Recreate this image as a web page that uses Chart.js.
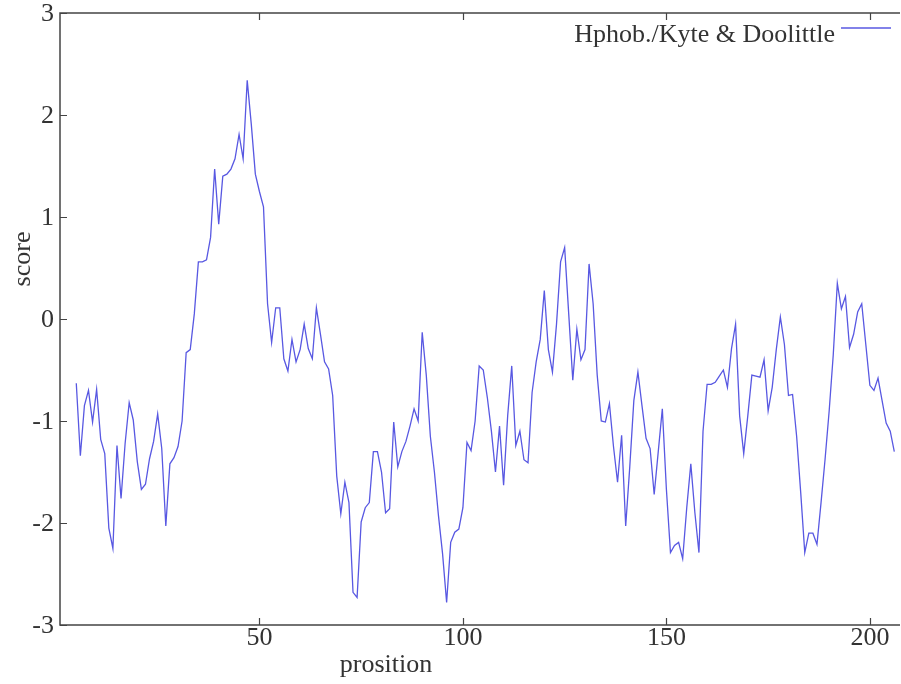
<!DOCTYPE html>
<html>
<head>
<meta charset="utf-8">
<title>Hydrophobicity plot</title>
<script src="https://cdn.jsdelivr.net/npm/chart.js@4.4.1/dist/chart.umd.min.js"></script>
<style>
  html, body { margin: 0; padding: 0; background: #fff; }
  canvas { display: block; }
</style>
</head>
<body>
<canvas id="hphob" width="901" height="684"></canvas>
<script>
// Kyte & Doolittle hydrophobicity scores, one value per residue position
const firstPosition = 5;
const scores = [
  -0.63, -1.34, -0.85, -0.70, -1.01, -0.69, -1.18, -1.32, -2.05, -2.25,
  -1.24, -1.76, -1.22, -0.82, -0.99, -1.40, -1.67, -1.62, -1.37, -1.20,
  -0.93, -1.27, -2.03, -1.42, -1.36, -1.25, -1.00, -0.33, -0.30, 0.05,
  0.56, 0.56, 0.58, 0.80, 1.47, 0.93, 1.40, 1.42, 1.47, 1.57,
  1.81, 1.57, 2.34, 1.91, 1.42, 1.25, 1.10, 0.15, -0.23, 0.11,
  0.11, -0.39, -0.51, -0.20, -0.42, -0.30, -0.05, -0.29, -0.39, 0.11,
  -0.15, -0.42, -0.49, -0.75, -1.54, -1.91, -1.60, -1.80, -2.68, -2.73,
  -1.99, -1.85, -1.80, -1.30, -1.30, -1.50, -1.90, -1.86, -1.01, -1.45,
  -1.30, -1.20, -1.05, -0.88, -1.00, -0.13, -0.55, -1.15, -1.50, -1.93,
  -2.30, -2.78, -2.19, -2.09, -2.06, -1.85, -1.21, -1.29, -1.00, -0.46,
  -0.50, -0.77, -1.10, -1.50, -1.05, -1.63, -0.95, -0.46, -1.24, -1.10,
  -1.38, -1.41, -0.72, -0.42, -0.20, 0.28, -0.30, -0.52, -0.05, 0.56,
  0.70, 0.05, -0.60, -0.10, -0.40, -0.30, 0.54, 0.15, -0.55, -1.00,
  -1.01, -0.83, -1.25, -1.60, -1.14, -2.03, -1.45, -0.80, -0.52, -0.85,
  -1.17, -1.27, -1.72, -1.30, -0.88, -1.67, -2.29, -2.22, -2.19, -2.35,
  -1.85, -1.42, -1.90, -2.29, -1.10, -0.64, -0.64, -0.62, -0.56, -0.50,
  -0.67, -0.29, -0.05, -0.95, -1.32, -0.95, -0.55, -0.56, -0.57, -0.40,
  -0.90, -0.67, -0.30, 0.02, -0.25, -0.75, -0.74, -1.15, -1.70, -2.29,
  -2.10, -2.10, -2.21, -1.80, -1.37, -0.90, -0.35, 0.35, 0.10, 0.22,
  -0.28, -0.15, 0.07, 0.15, -0.25, -0.65, -0.70, -0.58, -0.80, -1.02,
  -1.10, -1.30
];

const xTicks = [50, 100, 150, 200];
const yTicks = [-3, -2, -1, 0, 1, 2, 3];
const seriesLabel = 'Hphob./Kyte & Doolittle';
const xTitle = 'prosition';
const yTitle = 'score';

const points = scores.map((v, i) => ({ x: firstPosition + i, y: v }));

const lineColor = 'rgb(88, 88, 226)';
const inkColor = '#333333';
const font = '26px "Liberation Serif", "DejaVu Serif", serif';

// axes frame, inward ticks, labels and legend
const framePlugin = {
  id: 'frame',
  afterDraw(chart) {
    const { ctx, chartArea: a, scales: { x, y } } = chart;
    ctx.save();
    ctx.strokeStyle = '#444';
    ctx.lineWidth = 1.5;
    ctx.beginPath();
    ctx.moveTo(a.right, a.top); ctx.lineTo(a.left, a.top);
    ctx.lineTo(a.left, a.bottom); ctx.lineTo(a.right, a.bottom);
    ctx.stroke();

    ctx.lineWidth = 1.2;
    ctx.beginPath();
    xTicks.forEach(t => {
      const px = Math.round(x.getPixelForValue(t)) + 0.5;
      ctx.moveTo(px, a.bottom); ctx.lineTo(px, a.bottom - 7);
      ctx.moveTo(px, a.top); ctx.lineTo(px, a.top + 7);
    });
    yTicks.forEach(t => {
      const py = Math.round(y.getPixelForValue(t)) + 0.5;
      ctx.moveTo(a.left, py); ctx.lineTo(a.left + 7, py);
    });
    ctx.stroke();

    ctx.fillStyle = inkColor;
    ctx.font = font;
    ctx.textBaseline = 'alphabetic';
    ctx.textAlign = 'center';
    xTicks.forEach(t => ctx.fillText(String(t), x.getPixelForValue(t), a.bottom + 20));
    ctx.textAlign = 'right';
    yTicks.forEach(t => ctx.fillText(String(t), a.left - 6, y.getPixelForValue(t) + 8));

    ctx.textAlign = 'center';
    ctx.fillText(xTitle, 386, 672);
    ctx.save();
    ctx.translate(30, 259);
    ctx.rotate(-Math.PI / 2);
    ctx.fillText(yTitle, 0, 0);
    ctx.restore();

    // legend
    ctx.textAlign = 'right';
    ctx.fillText(seriesLabel, 835, 42);
    ctx.strokeStyle = lineColor;
    ctx.lineWidth = 1.3;
    ctx.beginPath();
    ctx.moveTo(841, 28); ctx.lineTo(891, 28);
    ctx.stroke();
    ctx.restore();
  }
};

new Chart(document.getElementById('hphob'), {
  type: 'line',
  data: {
    datasets: [{
      label: seriesLabel,
      data: points,
      borderColor: lineColor,
      borderWidth: 1.3,
      pointRadius: 0,
      tension: 0,
      fill: false
    }]
  },
  options: {
    responsive: false,
    animation: false,
    layout: { padding: { left: 60, right: 1, top: 13, bottom: 59 } },
    plugins: { legend: { display: false }, tooltip: { enabled: false } },
    scales: {
      x: { type: 'linear', min: 1, max: 207.4, display: false },
      y: { min: -3, max: 3, display: false }
    }
  },
  plugins: [framePlugin]
});
</script>
</body>
</html>
